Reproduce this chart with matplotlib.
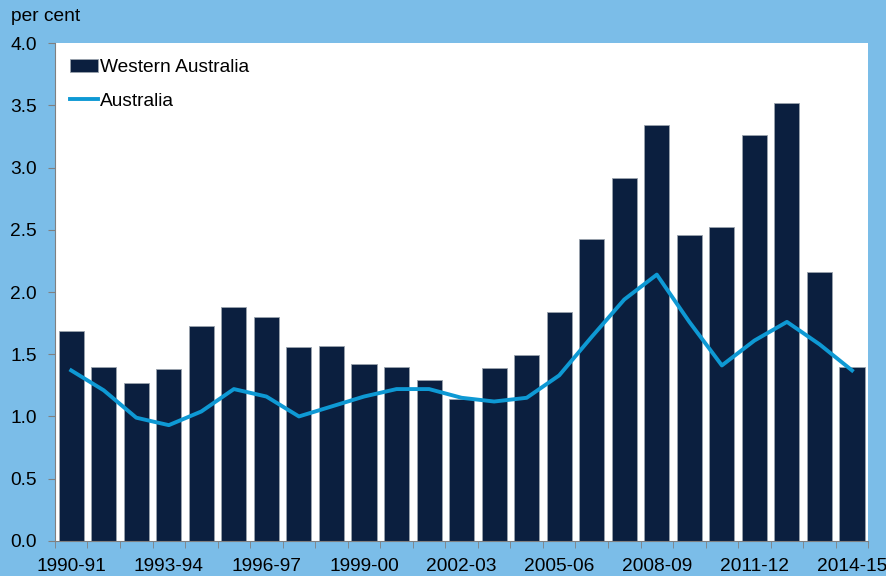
import matplotlib.pyplot as plt
import numpy as np

plt.rcParams['font.family'] = ['Liberation Sans', 'DejaVu Sans']

years = ['1990-91', '1991-92', '1992-93', '1993-94', '1994-95', '1995-96', '1996-97',
         '1997-98', '1998-99', '1999-00', '2000-01', '2001-02', '2002-03', '2003-04',
         '2004-05', '2005-06', '2006-07', '2007-08', '2008-09', '2009-10', '2010-11',
         '2011-12', '2012-13', '2013-14', '2014-15']

wa = [1.69, 1.40, 1.27, 1.38, 1.73, 1.88, 1.80, 1.56, 1.57, 1.42, 1.40, 1.29, 1.14,
      1.39, 1.49, 1.84, 2.43, 2.92, 3.34, 2.46, 2.52, 3.26, 3.52, 2.16, 1.40]
aus = [1.37, 1.21, 0.99, 0.93, 1.04, 1.22, 1.16, 1.00, 1.08, 1.16, 1.22, 1.22, 1.15,
       1.12, 1.15, 1.33, 1.64, 1.94, 2.14, 1.76, 1.41, 1.61, 1.76, 1.58, 1.37]

bg = '#7bbde8'
fs = 13.8
fig = plt.figure(figsize=(8.86, 5.76), dpi=100, facecolor=bg)
ax = fig.add_axes([0.062, 0.061, 0.918, 0.864])

x = np.arange(len(years))
bars = ax.bar(x, wa, width=0.77, color='#0b1f3f', edgecolor='#9aa3ad', linewidth=0.6,
              label='Western Australia', zorder=2)
line, = ax.plot(x, aus, color='#0e99d4', linewidth=2.8, label='Australia', zorder=3)

ax.set_xlim(-0.5, len(years) - 0.5)
ax.set_ylim(0, 4.0)
ax.set_yticks(np.arange(0, 4.01, 0.5))
ax.set_yticklabels([f'{v:.1f}' for v in np.arange(0, 4.01, 0.5)], fontsize=fs)

ax.set_xticks(x[::3])
ax.set_xticklabels(years[::3], fontsize=fs)
ax.set_xticks(np.arange(-0.5, len(years), 1), minor=True)
ax.tick_params(axis='x', which='major', length=0, pad=12)
ax.tick_params(axis='x', which='minor', length=5, color='#808080')
ax.tick_params(axis='y', length=5, color='#808080', pad=8)

for s in ['top', 'right']:
    ax.spines[s].set_visible(False)
for s in ['left', 'bottom']:
    ax.spines[s].set_color('#808080')
ax.set_facecolor('white')

fig.text(0.012, 0.972, 'per cent', fontsize=fs, va='center')

ax.legend([bars, line], ['Western Australia', 'Australia'], loc='upper left',
          frameon=False, fontsize=fs, handlelength=1.45, handletextpad=0.1,
          borderaxespad=0.3, labelspacing=0.85, borderpad=0.5)

plt.savefig('out.png', facecolor=bg)
